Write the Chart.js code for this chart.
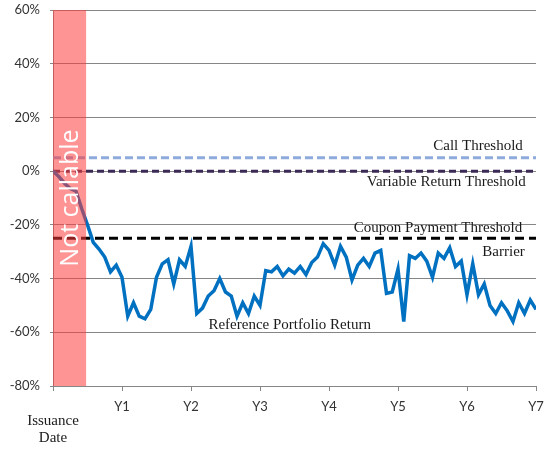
<!DOCTYPE html>
<html>
<head>
<meta charset="utf-8">
<script src="https://cdn.jsdelivr.net/npm/chart.js@4"></script>
<style>
  html, body { margin: 0; padding: 0; background: #fff; }
  #wrap { width: 545px; height: 453px; }
</style>
</head>
<body>
<div id="wrap"><canvas id="chart" width="545" height="453"></canvas></div>
<script>
// monthly reference portfolio return (%), month 0 = issuance date
const portfolioReturn = [
  0, -2, -4.5, -6.5, -7.5, -14, -20, -26.5, -29, -32, -37.5, -35, -39.5,
  -54, -49, -54, -55, -51.5, -39.5, -34.5, -33, -42, -33, -35.5, -28,
  -53, -51, -46.5, -44.5, -40, -45, -46.5, -54, -49, -53, -46.5, -50,
  -37, -37.5, -35.5, -39, -36.5, -38, -35.5, -38.5, -34, -32, -27, -29.5,
  -35, -28, -32, -40.5, -35, -32.5, -35.5, -30.5, -29.5, -45.5, -45, -36.5,
  -56, -31.5, -32.5, -30.5, -33.5, -39.5, -30.5, -32.5, -28.5, -35.5, -33.5, -46,
  -34.5, -46, -42, -50, -53, -49, -52, -56, -49, -53, -48, -51.5
];
const yearLabels = ['', 'Y1', 'Y2', 'Y3', 'Y4', 'Y5', 'Y6', 'Y7'];
const thresholdNames = ['Call Threshold', 'Variable Return Threshold', 'Coupon Payment Threshold'];
const thresholdValues = [5, 0, -25];
const notCallableYears = 0.48;

// label anchors in chart units [years, %]
const notes = [
  { text: 'Call Threshold', x: 6.16, y: 9.3 },
  { text: 'Variable Return Threshold', x: 5.7, y: -4.2 },
  { text: 'Coupon Payment Threshold', x: 5.58, y: -21.2 },
  { text: 'Barrier', x: 6.53, y: -30.2 },
  { text: 'Reference Portfolio Return', x: 3.43, y: -57.2 }
];

const returnPoints = portfolioReturn.map((v, i) => ({ x: i / 12, y: v }));
const thresholdStyles = [
  { color: '#8faadc', dash: [8, 4] },
  { color: '#3b2a55', dash: [7, 4] },
  { color: '#000000', dash: [9, 5] }
];

const datasets = [{
  label: 'Reference Portfolio Return',
  data: returnPoints,
  borderColor: '#0070c0',
  borderWidth: 3.5,
  pointRadius: 0,
  tension: 0
}];
thresholdValues.forEach((v, i) => {
  datasets.push({
    label: thresholdNames[i],
    data: [{ x: 0, y: v }, { x: 7, y: v }],
    borderColor: thresholdStyles[i].color,
    borderDash: thresholdStyles[i].dash,
    borderWidth: 3,
    pointRadius: 0
  });
});

const overlay = {
  id: 'overlay',
  afterDatasetsDraw(chart) {
    const ctx = chart.ctx;
    const xs = chart.scales.x, ys = chart.scales.y;
    const area = chart.chartArea;
    const x0 = xs.getPixelForValue(0), x1 = xs.getPixelForValue(notCallableYears);
    ctx.save();
    ctx.fillStyle = 'rgba(255, 60, 60, 0.55)';
    ctx.fillRect(x0, area.top, x1 - x0, area.bottom - area.top);

    ctx.translate((x0 + x1) / 2 + 1, ys.getPixelForValue(-10));
    ctx.rotate(-Math.PI / 2);
    ctx.fillStyle = '#ffffff';
    ctx.font = '25px "Open Sans", sans-serif';
    ctx.textAlign = 'center';
    ctx.textBaseline = 'middle';
    ctx.fillText('Not callable', 0, 0);
    ctx.restore();

    ctx.save();
    ctx.fillStyle = '#1a1a1a';
    ctx.font = '15px "Liberation Serif", serif';
    ctx.textAlign = 'center';
    ctx.textBaseline = 'middle';
    notes.forEach(n => {
      ctx.fillText(n.text, xs.getPixelForValue(n.x), ys.getPixelForValue(n.y));
    });
    const xi = xs.getPixelForValue(0);
    ctx.fillText('Issuance', xi, area.bottom + 35);
    ctx.fillText('Date', xi, area.bottom + 52);
    ctx.restore();
  }
};

new Chart(document.getElementById('chart'), {
  type: 'line',
  data: { datasets: datasets },
  options: {
    responsive: false,
    animation: false,
    layout: { padding: { top: 10, right: 9, left: 0, bottom: 0 } },
    plugins: { legend: { display: false }, tooltip: { enabled: false } },
    scales: {
      x: {
        type: 'linear',
        min: 0,
        max: 7,
        afterFit: s => { s.height = 67; s.paddingLeft = 0; s.paddingRight = 0; },
        afterBuildTicks: s => { s.ticks = yearLabels.map((l, i) => ({ value: i })); },
        ticks: {
          callback: v => yearLabels[v],
          color: '#333',
          font: { family: 'Lato', size: 13 },
          padding: 8,
          maxRotation: 0
        },
        grid: { drawOnChartArea: false, tickLength: 5, color: '#868686' },
        border: { color: '#868686' }
      },
      y: {
        min: -80,
        max: 60,
        afterFit: s => { s.width = 53; s.paddingTop = 0; s.paddingBottom = 0; },
        ticks: {
          stepSize: 20,
          callback: v => v + '%',
          color: '#333',
          font: { family: 'Lato', size: 13 },
          padding: 10
        },
        grid: { color: '#868686', tickLength: 3 },
        border: { color: '#868686' }
      }
    }
  },
  plugins: [overlay]
});
</script>
</body>
</html>
